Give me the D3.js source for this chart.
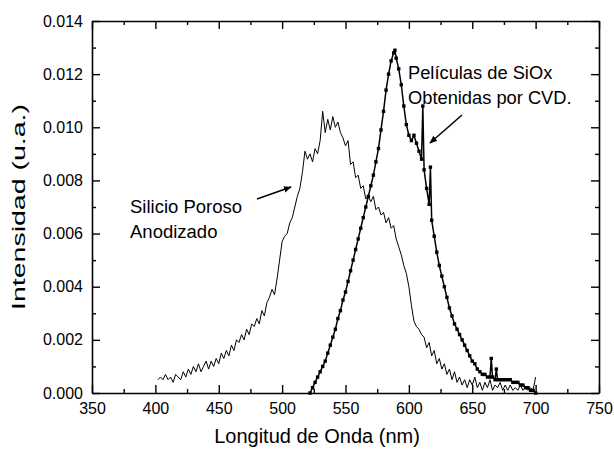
<!DOCTYPE html>
<html>
<head>
<meta charset="utf-8">
<script src="https://cdn.jsdelivr.net/npm/d3@7"></script>
<style>
  html, body { margin: 0; padding: 0; background: #fff; }
  svg { display: block; }
  text { font-family: Arial, "Liberation Sans", Helvetica, sans-serif; fill: #000; }
</style>
</head>
<body>
<svg id="chart" width="614" height="451"></svg>
<script>
// ---------------- data ----------------
const xTicks = [350, 400, 450, 500, 550, 600, 650, 700, 750];
const yTicks = [0, 0.002, 0.004, 0.006, 0.008, 0.010, 0.012, 0.014];
const xLabel = "Longitud de Onda (nm)";
const yLabel = "Intensidad (u.a.)";

// Silicio Poroso Anodizado (thin line)
const siNm = [402,404,406,408,410,412,414,416,418,420,422,424,426,428,430,432,434,436,438,440,
  442,444,446,448,450,452,454,456,458,460,462,464,466,468,470,472,474,476,478,480,
  482,484,486,488,490,492,494,496,498,500,502,504,506,508,510,512,514,516,518,520,
  522,524,526,528,530,532,534,536,538,540,542,544,546,548,550,552,554,556,558,560,
  562,564,566,568,570,572,574,576,578,580,582,584,586,588,590,592,594,596,598,600,
  602,604,606,608,610,612,614,616,618,620,622,624,626,628,630,632,634,636,638,640,
  642,644,646,648,650,652,654,656,658,660,662,664,666,668,670,672,674,676,678,680,
  682,684,686,688,690,692,694,696,698,700];
const siVal = [0.0005,0.0006,0.0005,0.0007,0.0005,0.0006,0.0004,0.0007,0.0006,0.0005,0.0008,0.0006,0.0009,0.0007,0.0010,0.0008,0.0011,0.0008,0.0010,0.0012,
  0.0009,0.0012,0.0010,0.0013,0.0011,0.0015,0.0013,0.0016,0.0014,0.0018,0.0016,0.0020,0.0019,0.0022,0.0020,0.0024,0.0022,0.0026,0.0025,0.0028,
  0.0026,0.0031,0.0029,0.0034,0.0036,0.0039,0.0037,0.0043,0.0050,0.0057,0.0059,0.0060,0.0064,0.0066,0.0070,0.0074,0.0077,0.0083,0.0091,0.0088,
  0.0090,0.0087,0.0092,0.0090,0.0095,0.0106,0.0098,0.0103,0.0099,0.0104,0.0100,0.0102,0.0098,0.0096,0.0093,0.0095,0.0086,0.0087,0.0081,0.0082,
  0.0077,0.0078,0.0073,0.0074,0.0072,0.0074,0.0069,0.0070,0.0067,0.0068,0.0064,0.0066,0.0062,0.0063,0.0058,0.0055,0.0052,0.0048,0.0045,0.0040,
  0.0033,0.0027,0.0025,0.0024,0.0022,0.0021,0.0017,0.0019,0.0014,0.0016,0.0011,0.0013,0.0009,0.0011,0.0007,0.0009,0.0005,0.0008,0.0004,0.0006,
  0.0003,0.0005,0.0002,0.0005,0.0003,0.0006,0.0002,0.0004,0.0001,0.0004,0.0002,0.0005,0.0001,0.0003,0.0002,0.0004,0.0001,0.0003,0.0001,0.0003,
  0.0001,0.0002,0.0001,0.0003,0.0001,0.0002,0.0001,0.0002,0.0001,0.0006];

// Películas de SiOx obtenidas por CVD (line + square markers)
const sioxNm = [522,524,526,528,530,532,534,536,538,540,542,544,546,548,550,552,554,556,558,560,
  562,564,566,568,570,572,574,576,578,580,582,584,586,588,589,590,592,594,596,598,
  600,602,604,606,608,610,611,612,614,616,617,618,620,622,624,626,628,630,632,634,
  636,638,640,642,644,646,648,650,652,654,656,658,660,662,664,665,666,668,669,670,
  672,674,676,678,680,682,684,686,688,690,692,694,696,698,700];
const sioxVal = [0.0000,0.0002,0.0004,0.0006,0.0008,0.0010,0.0012,0.0015,0.0018,0.0021,0.0024,0.0028,0.0031,0.0035,0.0038,0.0042,0.0046,0.0050,0.0054,0.0058,
  0.0062,0.0066,0.0070,0.0074,0.0078,0.0082,0.0087,0.0092,0.0099,0.0106,0.0114,0.0120,0.0125,0.0128,0.0129,0.0126,0.0122,0.0116,0.0108,0.0101,
  0.0097,0.0095,0.0097,0.0094,0.0091,0.0088,0.0108,0.0084,0.0077,0.0071,0.0085,0.0065,0.0059,0.0053,0.0048,0.0044,0.0040,0.0036,0.0032,0.0029,
  0.0026,0.0024,0.0022,0.0020,0.0018,0.0016,0.0014,0.0012,0.0011,0.0009,0.0008,0.0007,0.0007,0.0006,0.0006,0.0013,0.0006,0.0005,0.0009,0.0005,
  0.0005,0.0005,0.0005,0.0005,0.0005,0.0004,0.0004,0.0004,0.0003,0.0003,0.0002,0.0002,0.0001,0.0001,0.0000];

const annSi = ["Silicio Poroso", "Anodizado"];
const annSiox = ["Películas de SiOx", "Obtenidas por CVD."];

// ---------------- layout ----------------
const svg = d3.select("#chart");
const L = 92, R = 599, T = 21, B = 393;
const x = d3.scaleLinear().domain([350, 750]).range([L, R]);
const y = d3.scaleLinear().domain([0, 0.014]).range([B, T]);

const minorX = d3.range(375, 750, 50);
const minorY = d3.range(0.001, 0.014, 0.002);

function styleAxis(g) {
  g.selectAll("path.domain").attr("stroke", "#000").attr("stroke-width", 1.6);
  g.selectAll(".tick line").attr("stroke", "#000").attr("stroke-width", 1.4);
  g.selectAll("text").attr("font-size", 16).attr("fill", "#000")
    .style("font-family", "Arial, 'Liberation Sans', sans-serif");
}

// bottom
const gB = svg.append("g").attr("transform", `translate(0,${B})`)
  .call(d3.axisBottom(x).tickValues(xTicks).tickSizeInner(-8).tickSizeOuter(0).tickPadding(10).tickFormat(d3.format("d")));
styleAxis(gB);
svg.append("g").attr("transform", `translate(0,${B})`)
  .call(d3.axisBottom(x).tickValues(minorX).tickSizeInner(-4).tickSizeOuter(0).tickFormat(""))
  .call(g => { g.select(".domain").remove(); g.selectAll("line").attr("stroke", "#000").attr("stroke-width", 1.4); });
// top
const gT = svg.append("g").attr("transform", `translate(0,${T})`)
  .call(d3.axisTop(x).tickValues(xTicks).tickSizeInner(-8).tickSizeOuter(0).tickFormat(""));
styleAxis(gT);
svg.append("g").attr("transform", `translate(0,${T})`)
  .call(d3.axisTop(x).tickValues(minorX).tickSizeInner(-4).tickSizeOuter(0).tickFormat(""))
  .call(g => { g.select(".domain").remove(); g.selectAll("line").attr("stroke", "#000").attr("stroke-width", 1.4); });
// left
const gL = svg.append("g").attr("transform", `translate(${L},0)`)
  .call(d3.axisLeft(y).tickValues(yTicks).tickSizeInner(-8).tickSizeOuter(0).tickPadding(9).tickFormat(d3.format(".3f")));
styleAxis(gL);
svg.append("g").attr("transform", `translate(${L},0)`)
  .call(d3.axisLeft(y).tickValues(minorY).tickSizeInner(-4).tickSizeOuter(0).tickFormat(""))
  .call(g => { g.select(".domain").remove(); g.selectAll("line").attr("stroke", "#000").attr("stroke-width", 1.4); });
// right
const gR = svg.append("g").attr("transform", `translate(${R},0)`)
  .call(d3.axisRight(y).tickValues(yTicks).tickSizeInner(-8).tickSizeOuter(0).tickFormat(""));
styleAxis(gR);
svg.append("g").attr("transform", `translate(${R},0)`)
  .call(d3.axisRight(y).tickValues(minorY).tickSizeInner(-4).tickSizeOuter(0).tickFormat(""))
  .call(g => { g.select(".domain").remove(); g.selectAll("line").attr("stroke", "#000").attr("stroke-width", 1.4); });

// axis titles
svg.append("text").attr("x", 317).attr("y", 443).attr("text-anchor", "middle")
  .attr("font-size", 20).text(xLabel);
svg.append("text").attr("transform", `translate(25,207) rotate(-90)`).attr("text-anchor", "middle")
  .attr("font-size", 18).attr("textLength", 206).attr("lengthAdjust", "spacingAndGlyphs").text(yLabel);

// ---------------- series ----------------
const siData = siNm.map((d, i) => [d, siVal[i]]);
const sioxData = sioxNm.map((d, i) => [d, sioxVal[i]]);
const line = d3.line().x(d => x(d[0])).y(d => y(d[1]));

svg.append("path").datum(siData).attr("d", line)
  .attr("fill", "none").attr("stroke", "#000").attr("stroke-width", 1).attr("stroke-linejoin", "round");

svg.append("path").datum(sioxData).attr("d", line)
  .attr("fill", "none").attr("stroke", "#000").attr("stroke-width", 1.5).attr("stroke-linejoin", "round");
svg.append("g").selectAll("rect").data(sioxData).join("rect")
  .attr("x", d => x(d[0]) - 1.7).attr("y", d => y(d[1]) - 1.7)
  .attr("width", 3.4).attr("height", 3.4).attr("fill", "#000");

// ---------------- annotations ----------------
const defs = svg.append("defs");
defs.append("marker").attr("id", "arr").attr("viewBox", "0 0 10 10").attr("refX", 9).attr("refY", 5)
  .attr("markerWidth", 8).attr("markerHeight", 8).attr("markerUnits", "userSpaceOnUse").attr("orient", "auto")
  .append("path").attr("d", "M0,1 L10,5 L0,9 Z").attr("fill", "#000");

svg.append("line").attr("x1", 257).attr("y1", 199).attr("x2", 291).attr("y2", 187)
  .attr("stroke", "#000").attr("stroke-width", 1.5).attr("marker-end", "url(#arr)");
svg.append("line").attr("x1", 462).attr("y1", 115).attr("x2", 430).attr("y2", 143)
  .attr("stroke", "#000").attr("stroke-width", 1.5).attr("marker-end", "url(#arr)");

svg.append("text").attr("x", 130).attr("y", 213).attr("font-size", 18.5).text(annSi[0]);
svg.append("text").attr("x", 130).attr("y", 238).attr("font-size", 18.5).text(annSi[1]);
svg.append("text").attr("x", 408).attr("y", 79).attr("font-size", 18.3).text(annSiox[0]);
svg.append("text").attr("x", 408).attr("y", 104).attr("font-size", 18.3).text(annSiox[1]);
</script>
</body>
</html>
